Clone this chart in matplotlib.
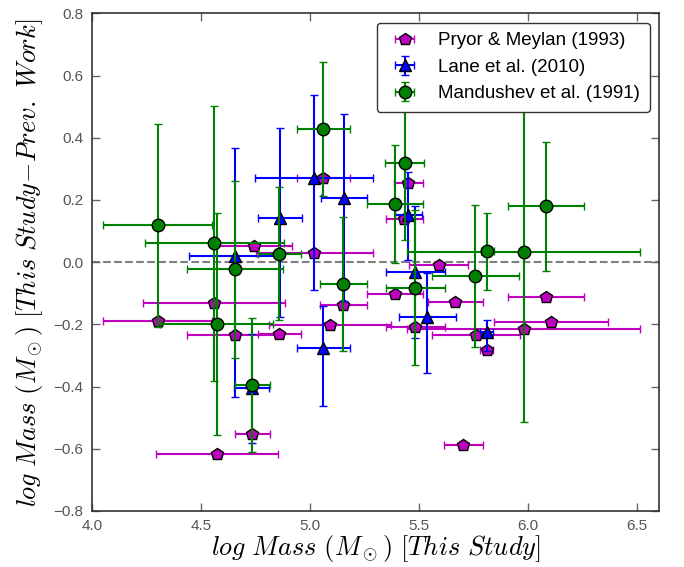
import matplotlib
matplotlib.use("Agg")
import matplotlib.pyplot as plt
import numpy as np

plt.rcParams['mathtext.fontset'] = 'cm'
plt.rcParams['font.family'] = ['Liberation Sans', 'DejaVu Sans']

# Pryor & Meylan (1993): mass, difference, mass error
pm_x = [4.745, 5.061, 5.451, 5.431, 5.020, 5.589, 4.561, 4.301, 4.657, 4.859,
        4.735, 4.573, 5.153, 5.092, 5.390, 5.482, 5.665, 5.703, 5.761, 5.810,
        6.083, 6.104, 5.979]
pm_y = [0.052, 0.269, 0.256, 0.140, 0.028, -0.008, -0.130, -0.189, -0.234, -0.232,
        -0.553, -0.617, -0.138, -0.202, -0.101, -0.210, -0.127, -0.587, -0.234, -0.283,
        -0.111, -0.191, -0.216]
pm_xerr = [0.17, 0.12, 0.065, 0.085, 0.27, 0.135, 0.326, 0.25, 0.22, 0.10,
           0.08, 0.28, 0.107, 0.28, 0.13, 0.136, 0.126, 0.09, 0.20, 0.03,
           0.175, 0.26, 0.536]

# Lane et al. (2010): mass, difference, mass error, lower/upper difference error
lane_x = [4.657, 4.862, 5.018, 5.156, 5.451, 5.483, 5.538, 5.061, 5.810, 4.732]
lane_y = [0.020, 0.141, 0.270, 0.206, 0.152, -0.032, -0.175, -0.277, -0.225, -0.406]
lane_xerr = [0.21, 0.10, 0.27, 0.107, 0.062, 0.136, 0.13, 0.12, 0.03, 0.08]
lane_yerr_lo = [0.452, 0.318, 0.361, 0.33, 0.145, 0.212, 0.182, 0.186, 0.06, 0.174]
lane_yerr_hi = [0.346, 0.290, 0.268, 0.270, 0.139, 0.212, 0.140, 0.137, 0.04, 0.174]

# Mandushev et al. (1991): mass, difference, mass error, difference error
man_x = [4.301, 4.561, 4.572, 4.657, 4.859, 4.735, 5.061, 5.153, 5.433, 5.390,
         5.482, 5.757, 5.813, 5.979, 6.083]
man_y = [0.119, 0.060, -0.199, -0.023, 0.027, -0.395, 0.429, -0.070, 0.320, 0.188,
         -0.082, -0.044, 0.035, 0.034, 0.179]
man_xerr = [0.25, 0.32, 0.26, 0.22, 0.10, 0.08, 0.12, 0.107, 0.088, 0.13,
            0.136, 0.20, 0.03, 0.536, 0.175]
man_yerr = [0.326, 0.442, 0.356, 0.285, 0.214, 0.215, 0.216, 0.215, 0.248, 0.19,
            0.25, 0.228, 0.124, 0.547, 0.207]

fig = plt.figure(figsize=(6.84, 5.67), dpi=100)
ax = fig.add_axes([0.1345, 0.0988, 0.829, 0.8777])

ax.axhline(0.0, color='gray', ls='--', lw=1.5, zorder=1)

common = dict(capsize=3, capthick=1.0, elinewidth=1.5, ls='none',
              markeredgecolor='black', markeredgewidth=1.0)

ax.errorbar(pm_x, pm_y, xerr=pm_xerr, fmt='p', color='m', ecolor='m',
            ms=9, label='Pryor & Meylan (1993)', zorder=3, **common)
ax.errorbar(lane_x, lane_y, xerr=lane_xerr, yerr=[lane_yerr_lo, lane_yerr_hi],
            fmt='^', color='b', ecolor='b', ms=9,
            label='Lane et al. (2010)', zorder=4, **common)
ax.errorbar(man_x, man_y, xerr=man_xerr, yerr=man_yerr, fmt='o', color='g',
            ecolor='g', ms=9, label='Mandushev et al. (1991)', zorder=5, **common)

ax.set_xlim(4.0, 6.6)
ax.set_ylim(-0.8, 0.8)
ax.set_xticks(np.arange(4.0, 6.51, 0.5))
ax.set_yticks(np.arange(-0.8, 0.81, 0.2))
ax.tick_params(direction='in', top=True, right=True, length=6, width=1,
               color='#666666', labelcolor='#555555', labelsize=11, pad=6)
for sp in ax.spines.values():
    sp.set_color('#333333')
    sp.set_linewidth(1.2)

ax.set_xlabel(r'$log\ Mass\ (M_\odot)\ [This\ Study]$', fontsize=19, labelpad=0)
ax.set_ylabel(r'$log\ Mass\ (M_\odot)\ [This\ Study\!-\!Prev.\ Work]$',
              fontsize=19, labelpad=6)

leg = ax.legend(loc='upper right', fontsize=13.5, numpoints=1, fancybox=True,
                framealpha=1.0, edgecolor='#333333', borderpad=0.5)
leg.get_frame().set_linewidth(1.0)

fig.savefig('out.png', dpi=100)
